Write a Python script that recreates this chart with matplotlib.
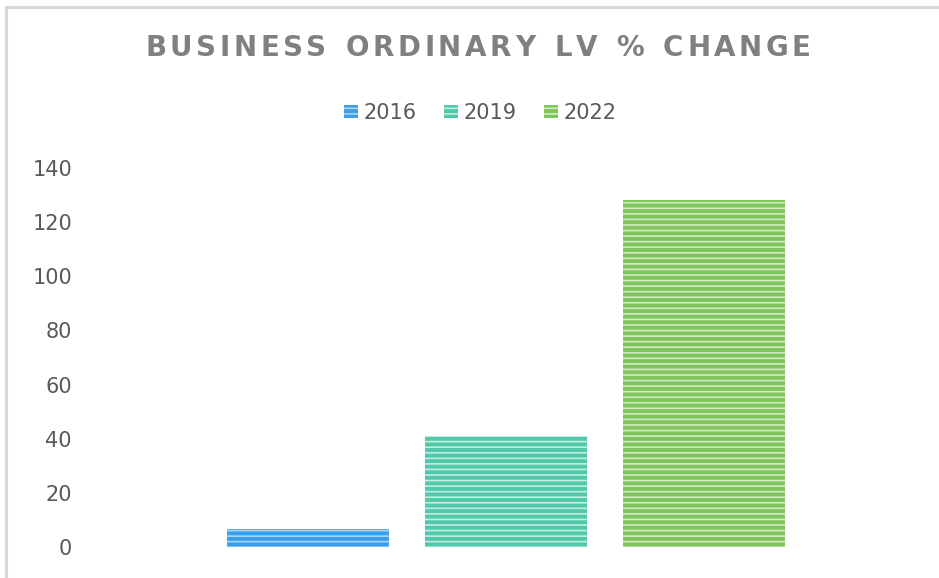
import matplotlib
matplotlib.use("Agg")
import matplotlib.pyplot as plt
from matplotlib.patches import Rectangle

years = ["2016", "2019", "2022"]
values = [6.5, 41, 128]
colors = ["#3d9eea", "#4fc9a9", "#80c45c"]
stripe_colors = ["#a6d5f7", "#c4ecdf", "#d3ebc4"]
yticks = [0, 20, 40, 60, 80, 100, 120, 140]

W, H = 939, 578
fig = plt.figure(figsize=(W / 100, H / 100), dpi=100)
plt.rcParams["hatch.linewidth"] = 1.2

# outer chart border (only top / left visible in the crop)
fig.patches.append(Rectangle((6 / W, -0.1), 1.2, (H - 7) / H + 0.1,
                             transform=fig.transFigure, fill=False,
                             edgecolor="#d9d9d9", linewidth=2.2))

# plot area in pixels
left, right, bottom, top = 90, 910, 547, 168
ax = fig.add_axes([left / W, (H - bottom) / H, (right - left) / W, (bottom - top) / H])

xs = [0, 1, 2]
width = 162 / 198
bars = []
for x, v, c, s, y in zip(xs, values, colors, stripe_colors, years):
    b = ax.bar(x, v, width=width, color=c, edgecolor=s, linewidth=0,
               hatch="---", label=y)
    bars.append(b)

# map x so bar centres land at the same pixels as reference
px_per_unit = 198
c0 = 308
ax.set_xlim((left - c0) / px_per_unit, (right - c0) / px_per_unit)
ax.set_ylim(0, 140)
ax.set_yticks(yticks)
ax.set_xticks([])
ax.tick_params(axis="y", length=0, pad=13, labelsize=15, labelcolor="#595959")
for sp in ax.spines.values():
    sp.set_visible(False)

leg = fig.legend(handles=bars, loc="center", bbox_to_anchor=(480 / W, 1 - 113 / H),
                 ncol=3, frameon=False, fontsize=15, handlelength=0.7,
                 handleheight=0.55, handletextpad=0.25, columnspacing=1.3,
                 labelcolor="#595959")

# letter-spaced title
title = "BUSINESS ORDINARY LV % CHANGE"
fsize = 20
track = 3.6
r = fig.canvas.get_renderer()
widths = []
for ch in title:
    if ch == " ":
        widths.append(12)
        continue
    t = fig.text(0, 0, ch, fontsize=fsize, fontweight="bold")
    widths.append(t.get_window_extent(renderer=r).width)
    t.remove()
total = sum(widths) + track * (len(title) - 1)
x = 478 - total / 2
for ch, w in zip(title, widths):
    if ch != " ":
        fig.text(x / W, 1 - 48 / H, ch, fontsize=fsize, fontweight="bold",
                 color="#808080", va="center", ha="left")
    x += w + track

fig.savefig("out.png", dpi=100)
